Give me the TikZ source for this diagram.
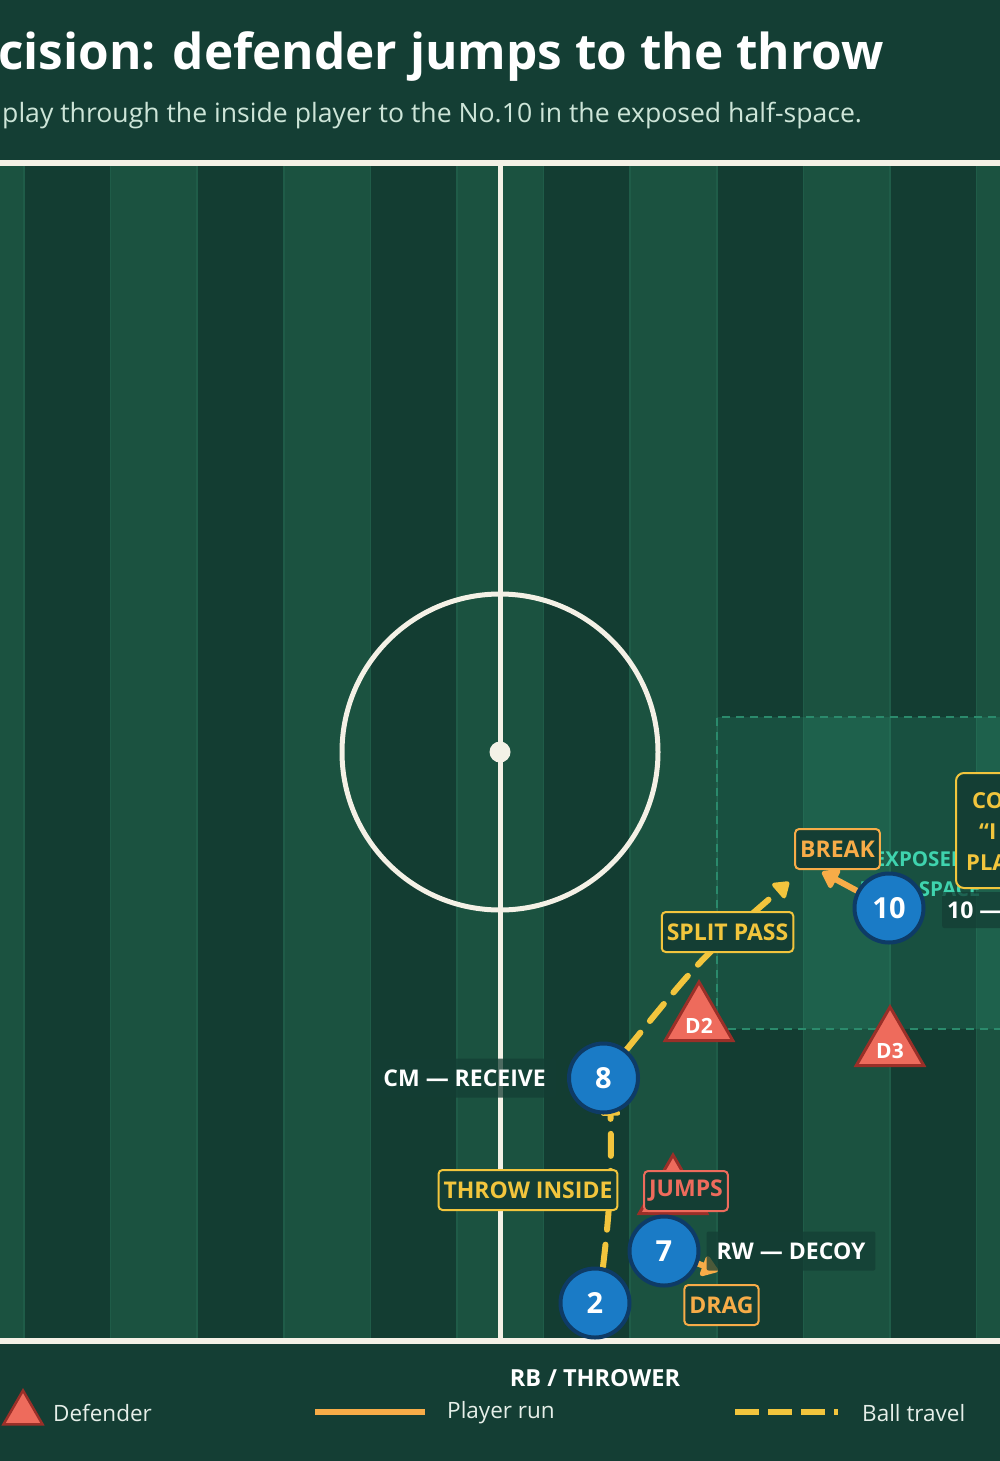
\documentclass[tikz,border=0pt]{standalone}
\usepackage{fontspec}
\setmainfont{Open Sans}
\usetikzlibrary{arrows.meta,shapes.geometric,calc}
\definecolor{bgc}{HTML}{143E34}
\definecolor{stripeL}{HTML}{1B5240}
\definecolor{stripeD}{HTML}{133D32}
\definecolor{stripeLine}{HTML}{1F5C48}
\definecolor{chalk}{HTML}{F4F1E6}
\definecolor{pblue}{HTML}{1A7BC6}
\definecolor{pborder}{HTML}{0E3B66}
\definecolor{tfill}{HTML}{EE6B5C}
\definecolor{tborder}{HTML}{9A2F28}
\definecolor{ballc}{HTML}{F2C53D}
\definecolor{runc}{HTML}{F7AC48}
\definecolor{jumpc}{HTML}{EE6B5C}
\definecolor{tealc}{HTML}{3FD3AE}
\definecolor{zonefill}{HTML}{2E9E7C}
\definecolor{zoneline}{HTML}{2B8A6C}
\definecolor{subc}{HTML}{CDE5D8}
\definecolor{legc}{HTML}{E6EFE9}
\pgfdeclarelayer{pitch}
\pgfdeclarelayer{paths}
\pgfsetlayers{pitch,paths,main}
\tikzset{
  player/.style={circle, fill=pblue, draw=pborder, line width=4pt, minimum size=69pt, inner sep=0pt,
    text=white, font=\bfseries\fontsize{29}{29}\selectfont},
  deftri/.style={regular polygon, regular polygon sides=3, fill=tfill, draw=tborder, line width=3pt,
    minimum size=78pt, inner sep=0pt},
  trilab/.style={text=white, inner sep=0pt, font=\bfseries\fontsize{21}{21}\selectfont},
  tag/.style={rounded corners=4pt, fill=bgc, line width=2pt, inner xsep=5pt, inner ysep=0pt,
    minimum height=40pt, font=\bfseries\fontsize{23}{23}\selectfont},
  namelab/.style={fill=bgc, fill opacity=0.75, text opacity=1, text=white, rounded corners=2pt,
    inner xsep=10pt, inner ysep=0pt, minimum height=39pt, font=\bfseries\fontsize{23}{23}\selectfont},
  zonelab/.style={text=tealc, align=center, inner sep=0pt, font=\bfseries\fontsize{20.5}{30}\selectfont},
  ytext/.style={text=ballc, inner sep=0pt, font=\bfseries\fontsize{22}{22}\selectfont},
  ball/.style={draw=ballc, line width=6pt, dash pattern=on 22pt off 15pt, line cap=round,
    -{Triangle[length=17pt,width=22pt,round]}},
  run/.style={draw=runc, line width=6pt, line cap=round,
    -{Triangle[length=18pt,width=24pt,round]}},
  legtext/.style={text=legc, inner sep=0pt, font=\fontsize{22.5}{22.5}\selectfont},
}
\begin{document}
\begin{tikzpicture}[x=1pt,y=-1pt]
\useasboundingbox (0,0) rectangle (1000,1461);
% ---------------- pitch ----------------
\begin{pgfonlayer}{pitch}
\fill[bgc] (0,0) rectangle (1000,1461);
\fill[stripeL] (0,166) rectangle (1000,1338);
\foreach \k in {0,2,4,6,8,10} {
  \fill[stripeD] ({24+86.6*\k},166) rectangle ({24+86.6*(\k+1)},1338);
}
\foreach \k in {0,...,11} {
  \draw[stripeLine, line width=1.5pt] ({24+86.6*\k},166) -- ({24+86.6*\k},1338);
}
\fill[zonefill, fill opacity=0.2] (717,717) rectangle (1010,1029);
\draw[zoneline, line width=2pt, dash pattern=on 8pt off 6pt] (1010,717) -- (717,717) -- (717,1029) -- (1010,1029);
\draw[chalk, line width=6pt] (-5,163) -- (1005,163);
\draw[chalk, line width=6pt] (-5,1341) -- (1005,1341);
\draw[chalk, line width=5pt] (500,163) -- (500,1341);
\draw[chalk, line width=5pt] (500,752) circle[radius=158pt];
\fill[chalk] (500,752) circle[radius=10.5pt];
\end{pgfonlayer}

% ---------------- header ----------------
\node[anchor=base west, inner sep=0pt, text=white, font=\bfseries\fontsize{49.5}{49.5}\selectfont] (title) at (-2,70) {cision: defender jumps to the throw};
\node[anchor=base west, inner sep=0pt, text=subc, font=\fontsize{26.6}{26.6}\selectfont] (subtitle) at (2,123) {play through the inside player to the No.10 in the exposed half-space.};

% ---------------- defenders ----------------
\node[deftri] (d1) at (673,1194) {};
\node[deftri] (d2) at (699,1021) {};
\node[deftri] (d3) at (890,1046) {};
\node[trilab] (d2l) at ([yshift=-5pt]d2.center) {D2};
\node[trilab] (d3l) at ([yshift=-5pt]d3.center) {D3};

% ---------------- zone label ----------------
\node[zonelab] (zone) at (920,874) {EXPOSED\\HALF-SPACE};

% ---------------- players ----------------
\node[player] (p8) at (603.5,1078) {8};
\node[player] (p10) at (889,908) {10};
\node[player] (p7) at (664,1251) {7};
\node[player] (p2) at (595,1303) {2};

\coordinate (passend) at (789,882);
\coordinate (breakend) at (822,872);
\coordinate (dragend) at (718,1271);

% ---------------- connectors ----------------
\begin{pgfonlayer}{paths}
\draw[ball, shorten >=-14pt] ([xshift=8pt]p2.north) to[bend right=4] ([xshift=7pt]p8.south);
\draw[ball] (p8) .. controls (701,958) .. (passend);
\draw[run] (p10) -- (breakend);
\draw[run] (p7) -- (dragend);
\end{pgfonlayer}

% ---------------- tags ----------------
\node[tag, draw=runc, text=runc] (breakl) at (837.5,849) {BREAK};
\node[tag, draw=ballc, text=ballc] (splitl) at (727.5,932) {SPLIT PASS};
\node[tag, draw=ballc, text=ballc] (throwl) at (528,1190) {THROW INSIDE};
\node[tag, draw=jumpc, text=jumpc] (jumpl) at (686,1191) {JUMPS};
\node[tag, draw=runc, text=runc] (dragl) at (721.5,1305) {DRAG};

% ---------------- name labels ----------------
\node[namelab, anchor=east] (cml) at (556,1078) {CM — RECEIVE};
\node[namelab] (rwl) at (791,1251) {RW — DECOY};
\node[namelab, anchor=west, minimum height=36pt, inner xsep=5pt] (tenl) at (942,910) {10 —\hspace{30pt}};
\node[text=white, inner sep=0pt, font=\bfseries\fontsize{23.5}{23.5}\selectfont] (rbl) at (595,1378) {RB / THROWER};

% ---------------- coach box (clipped at right edge) ----------------
\node[draw=ballc, fill=bgc, line width=2pt, rounded corners=8pt, anchor=north west,
      minimum width=120pt, minimum height=115pt] (coachbox) at (955,772) {};
\node[ytext, anchor=base west] (c1) at (972,808) {CO};
\node[ytext, anchor=base west] (c2) at (979,839) {“I};
\node[ytext, anchor=base west] (c3) at (966,870) {PLA};

% ---------------- legend ----------------
\node[deftri, minimum size=45pt, line width=2.5pt] (legtri) at (23,1413) {};
\node[legtext, anchor=west] (legdef) at (53,1413) {Defender};
\coordinate (lr1) at (315,1412);
\coordinate (lr2) at (425,1412);
\draw[runc, line width=6pt] (lr1) -- (lr2);
\node[legtext, anchor=west] (legrun) at (447,1413) {Player run};
\coordinate (lb1) at (735,1412);
\coordinate (lb2) at (838,1412);
\draw[ballc, line width=6pt, dash pattern=on 24pt off 9pt] (lb1) -- (lb2);
\node[legtext, anchor=west] (legball) at (862,1413) {Ball travel};
\end{tikzpicture}
\end{document}
